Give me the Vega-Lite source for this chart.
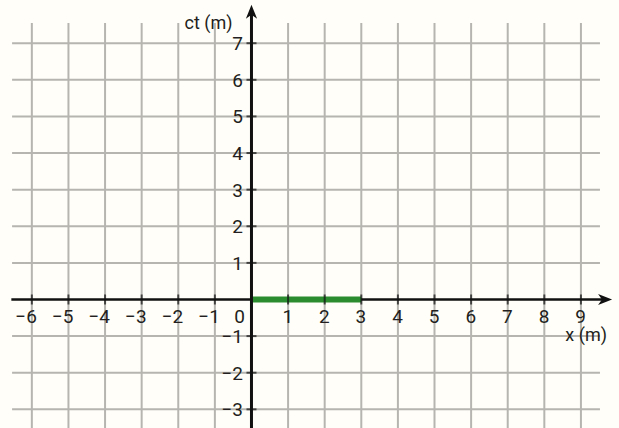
{
  "$schema": "https://vega.github.io/schema/vega-lite/v6.json",
  "width": 619,
  "height": 428,
  "padding": 0,
  "autosize": {"type": "none"},
  "background": "#fffef8",
  "config": {"view": {"stroke": null}, "axis": {"disable": true}},
  "datasets": {
    "vgrid": [{"x": -6}, {"x": -5}, {"x": -4}, {"x": -3}, {"x": -2}, {"x": -1}, {"x": 1}, {"x": 2}, {"x": 3}, {"x": 4}, {"x": 5}, {"x": 6}, {"x": 7}, {"x": 8}, {"x": 9}],
    "hgrid": [{"ct": -3}, {"ct": -2}, {"ct": -1}, {"ct": 1}, {"ct": 2}, {"ct": 3}, {"ct": 4}, {"ct": 5}, {"ct": 6}, {"ct": 7}],
    "xlabels": [{"x": -6, "label": "−6"}, {"x": -5, "label": "−5"}, {"x": -4, "label": "−4"}, {"x": -3, "label": "−3"}, {"x": -2, "label": "−2"}, {"x": -1, "label": "−1"}, {"x": 1, "label": "1"}, {"x": 2, "label": "2"}, {"x": 3, "label": "3"}, {"x": 4, "label": "4"}, {"x": 5, "label": "5"}, {"x": 6, "label": "6"}, {"x": 7, "label": "7"}, {"x": 8, "label": "8"}, {"x": 9, "label": "9"}],
    "ylabels": [{"ct": -3, "label": "−3"}, {"ct": -2, "label": "−2"}, {"ct": -1, "label": "−1"}, {"ct": 1, "label": "1"}, {"ct": 2, "label": "2"}, {"ct": 3, "label": "3"}, {"ct": 4, "label": "4"}, {"ct": 5, "label": "5"}, {"ct": 6, "label": "6"}, {"ct": 7, "label": "7"}],
    "segment": [{"x_start": 0, "x_end": 3, "ct": 0}]
  },
  "layer": [
    {
      "data": {"name": "vgrid"},
      "mark": {"type": "rule", "color": "#b6b5b0", "strokeWidth": 2},
      "encoding": {
        "x": {"field": "x", "type": "quantitative", "scale": {"domain": [-6.87, 10.04], "nice": false, "zero": false}},
        "y": {"datum": 7.55, "type": "quantitative", "scale": {"domain": [-3.51, 8.18], "nice": false, "zero": false}},
        "y2": {"datum": -3.6}
      }
    },
    {
      "data": {"name": "hgrid"},
      "mark": {"type": "rule", "color": "#b6b5b0", "strokeWidth": 2},
      "encoding": {
        "y": {"field": "ct", "type": "quantitative"},
        "x": {"datum": -6.54, "type": "quantitative"},
        "x2": {"datum": 9.52}
      }
    },
    {
      "data": {"values": [{}]},
      "mark": {"type": "rule", "color": "#111111", "strokeWidth": 2.5},
      "encoding": {
        "y": {"datum": 0, "type": "quantitative"},
        "x": {"datum": -6.56, "type": "quantitative"},
        "x2": {"datum": 9.7}
      }
    },
    {
      "data": {"name": "segment"},
      "mark": {"type": "rule", "color": "#2a8c2f", "strokeWidth": 6, "strokeCap": "butt"},
      "encoding": {
        "x": {"field": "x_start", "type": "quantitative"},
        "x2": {"field": "x_end"},
        "y": {"field": "ct", "type": "quantitative"}
      }
    },
    {
      "data": {"values": [{}]},
      "mark": {"type": "rule", "color": "#111111", "strokeWidth": 3},
      "encoding": {
        "x": {"datum": 0, "type": "quantitative"},
        "y": {"datum": -3.6, "type": "quantitative"},
        "y2": {"datum": 7.9}
      }
    },
    {
      "data": {"name": "xlabels"},
      "mark": {"type": "tick", "orient": "vertical", "color": "#111111", "size": 10, "thickness": 2},
      "encoding": {
        "x": {"field": "x", "type": "quantitative"},
        "y": {"datum": 0, "type": "quantitative"}
      }
    },
    {
      "data": {"name": "ylabels"},
      "mark": {"type": "tick", "orient": "horizontal", "color": "#111111", "size": 10, "thickness": 2},
      "encoding": {
        "y": {"field": "ct", "type": "quantitative"},
        "x": {"datum": 0, "type": "quantitative"}
      }
    },
    {
      "data": {"values": [{}]},
      "mark": {"type": "point", "filled": true, "opacity": 1, "color": "#111111", "size": 196, "shape": "M0,-1L0.8,1L0,0.45L-0.8,1Z"},
      "encoding": {
        "x": {"datum": 0, "type": "quantitative"},
        "y": {"datum": 7.86, "type": "quantitative"}
      }
    },
    {
      "data": {"values": [{}]},
      "mark": {"type": "point", "filled": true, "opacity": 1, "color": "#111111", "size": 196, "shape": "M1,0L-1,0.8L-0.45,0L-1,-0.8Z"},
      "encoding": {
        "x": {"datum": 9.66, "type": "quantitative"},
        "y": {"datum": 0, "type": "quantitative"}
      }
    },
    {
      "data": {"name": "xlabels"},
      "mark": {"type": "text", "align": "right", "baseline": "alphabetic", "dx": 5, "dy": 24, "font": "Roboto", "fontSize": 19, "color": "#231f20"},
      "encoding": {
        "x": {"field": "x", "type": "quantitative"},
        "y": {"datum": 0, "type": "quantitative"},
        "text": {"field": "label"}
      }
    },
    {
      "data": {"name": "ylabels"},
      "mark": {"type": "text", "align": "right", "baseline": "middle", "dx": -8.5, "dy": 1, "font": "Roboto", "fontSize": 19, "color": "#231f20"},
      "encoding": {
        "y": {"field": "ct", "type": "quantitative"},
        "x": {"datum": 0, "type": "quantitative"},
        "text": {"field": "label"}
      }
    },
    {
      "data": {"values": [{"label": "0"}]},
      "mark": {"type": "text", "align": "right", "baseline": "alphabetic", "dx": -6.5, "dy": 24, "font": "Roboto", "fontSize": 19, "color": "#231f20"},
      "encoding": {
        "x": {"datum": 0, "type": "quantitative"},
        "y": {"datum": 0, "type": "quantitative"},
        "text": {"field": "label"}
      }
    },
    {
      "data": {"values": [{"label": "ct (m)"}]},
      "mark": {"type": "text", "align": "right", "baseline": "alphabetic", "dx": -19, "dy": -14, "font": "Roboto", "fontSize": 18, "color": "#231f20"},
      "encoding": {
        "x": {"datum": 0, "type": "quantitative"},
        "y": {"datum": 7, "type": "quantitative"},
        "text": {"field": "label"}
      }
    },
    {
      "data": {"values": [{"label": "x (m)"}]},
      "mark": {"type": "text", "align": "right", "baseline": "alphabetic", "dx": 26, "dy": 42, "font": "Roboto", "fontSize": 18, "color": "#231f20"},
      "encoding": {
        "x": {"datum": 9, "type": "quantitative"},
        "y": {"datum": 0, "type": "quantitative"},
        "text": {"field": "label"}
      }
    }
  ]
}
